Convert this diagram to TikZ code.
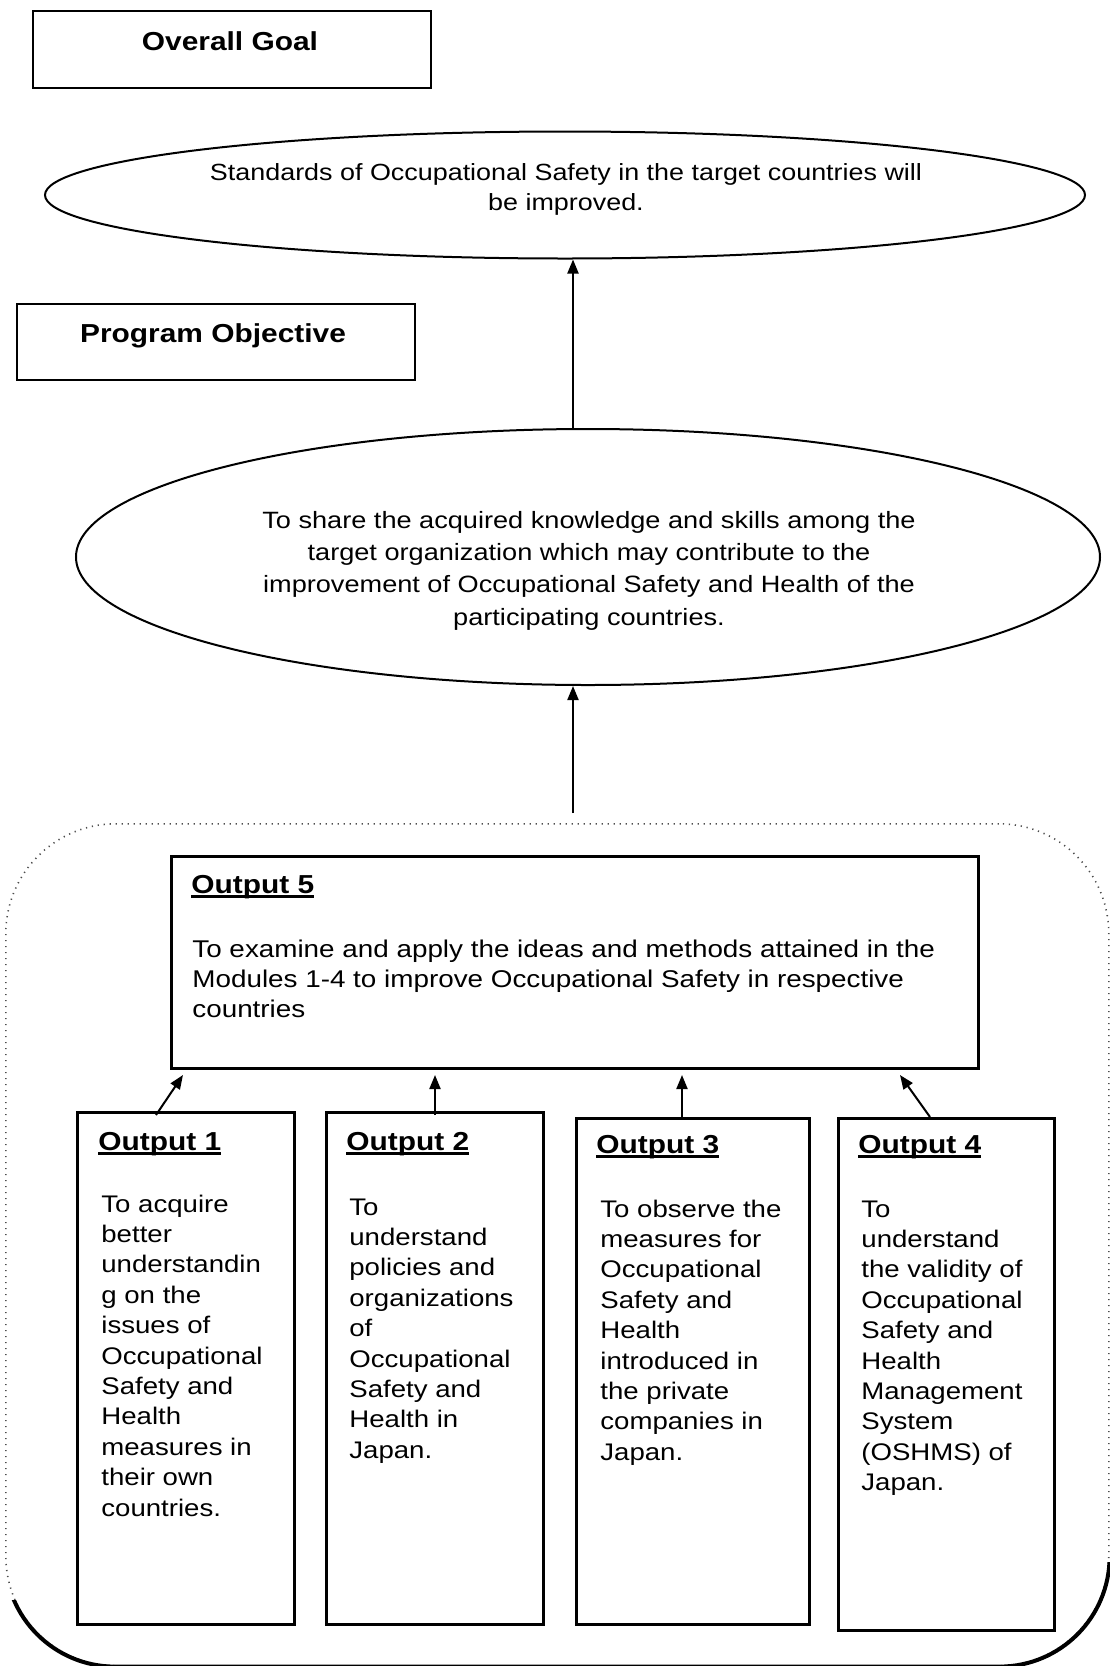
\documentclass[tikz,border=0pt]{standalone}
\usepackage{fontspec}
\setmainfont{Liberation Sans}[FakeStretch=1.15]
\usetikzlibrary{shapes.geometric,arrows.meta}
\newcommand\ultitle[1]{\setbox0\hbox{#1}\rlap{\rule[-2.6pt]{\wd0}{1.5pt}}\box0}
\begin{document}
\begin{tikzpicture}[x=0.5pt,y=-0.5pt,
  box/.style={draw, line width=1.25pt, inner sep=0, anchor=north west},
  ell/.style={draw, ellipse, line width=1pt, inner sep=0},
  arr/.style={line width=1pt, -{Triangle[length=7pt,width=5.5pt]}},
  txt/.style={inner sep=0, anchor=base west, font=\fontsize{12pt}{15.2pt}\selectfont},
  ttl/.style={inner sep=0, anchor=base west, font=\fontsize{13pt}{15pt}\selectfont\bfseries},
  frame/.style={draw=black!70, line width=0.8pt, dash pattern=on 0.6pt off 2.4pt, rounded corners=55pt, inner sep=0, anchor=north west}
]
\useasboundingbox (0,0) rectangle (1110,1666);

% group frame
\node[frame, minimum width=551.5pt, minimum height=421pt] (grp) at (5,823) {};
\begin{scope}
  \clip (0,1600) -- (560,1600) -- (560,1562) -- (1110,1562) -- (1110,1700) -- (0,1700) -- cycle;
  \draw[line width=2pt, rounded corners=55pt] (grp.north west) rectangle (grp.south east);
\end{scope}

% header boxes
\node[box, line width=1pt, minimum width=199pt, minimum height=38.5pt] (goal) at (32,10) {};
\node[ttl, anchor=base] (goalt) at (230,50) {Overall Goal};
\node[box, line width=1pt, minimum width=199pt, minimum height=38pt] (obj) at (16,303) {};
\node[ttl, anchor=base] (objt) at (213,342) {Program Objective};

% ellipses
\node[ell, minimum width=520pt, minimum height=63.5pt] (E1) at (565,195) {};
\node[inner sep=0, anchor=base, font=\fontsize{11.7pt}{15pt}\selectfont] (E1t) at (566,180)
  {\begin{tabular}[t]{@{}c@{}}Standards of Occupational Safety in the target countries will\\be improved.\end{tabular}};
\node[ell, minimum width=512pt, minimum height=128pt] (E2) at (588,557) {};
\node[inner sep=0, anchor=base, font=\fontsize{11.8pt}{16.2pt}\selectfont] (E2t) at (589,528)
  {\begin{tabular}[t]{@{}c@{}}To share the acquired knowledge and skills among the\\target organization which may contribute to the\\improvement of Occupational Safety and Health of the\\participating countries.\end{tabular}};

% output 5
\node[box, minimum width=403.5pt, minimum height=106pt] (O5) at (170,855) {};
\node[ttl] (O5h) at (191,893) {\ultitle{Output 5}};
\node[txt, font=\fontsize{12.1pt}{15pt}\selectfont] (O5t) at (192,957)
  {\begin{tabular}[t]{@{}l@{}}To examine and apply the ideas and methods attained in the\\Modules 1-4 to improve Occupational Safety in respective\\countries\end{tabular}};

% outputs 1-4
\node[box, minimum width=108.5pt, minimum height=256pt] (O1) at (76,1111) {};
\node[ttl] (O1h) at (98,1150) {\ultitle{Output 1}};
\node[txt] (O1t) at (101,1212)
  {\begin{tabular}[t]{@{}l@{}}To acquire\\better\\understandin\\g on the\\issues of\\Occupational\\Safety and\\Health\\measures in\\their own\\countries.\end{tabular}};

\node[box, minimum width=108.5pt, minimum height=256pt] (O2) at (325,1111) {};
\node[ttl] (O2h) at (346,1150) {\ultitle{Output 2}};
\node[txt] (O2t) at (349,1215)
  {\begin{tabular}[t]{@{}l@{}}To\\understand\\policies and\\organizations\\of\\Occupational\\Safety and\\Health in\\Japan.\end{tabular}};

\node[box, minimum width=116.5pt, minimum height=253pt] (O3) at (575,1117) {};
\node[ttl] (O3h) at (596,1153) {\ultitle{Output 3}};
\node[txt] (O3t) at (600,1217)
  {\begin{tabular}[t]{@{}l@{}}To observe the\\measures for\\Occupational\\Safety and\\Health\\introduced in\\the private\\companies in\\Japan.\end{tabular}};

\node[box, minimum width=108pt, minimum height=256pt] (O4) at (837,1117) {};
\node[ttl] (O4h) at (858,1153) {\ultitle{Output 4}};
\node[txt] (O4t) at (861,1217)
  {\begin{tabular}[t]{@{}l@{}}To\\understand\\the validity of\\Occupational\\Safety and\\Health\\Management\\System\\(OSHMS) of\\Japan.\end{tabular}};

% connectors
\coordinate (ax) at (573,0);
\draw[arr] (E2.north -| ax) -- (E1.south -| ax);
\coordinate (c2) at (573,813);
\draw[arr] (c2) -- (E2.south -| c2);

\coordinate (s1) at (156,1115); \coordinate (t1) at (183,1075);
\coordinate (s2) at (435,1115); \coordinate (t2) at (435,1075);
\coordinate (s3) at (682,1117); \coordinate (t3) at (682,1075);
\coordinate (s4) at (930,1117); \coordinate (t4) at (900,1075);
\draw[arr] (s1) -- (t1);
\draw[arr] (s2) -- (t2);
\draw[arr] (s3) -- (t3);
\draw[arr] (s4) -- (t4);
\end{tikzpicture}
\end{document}
